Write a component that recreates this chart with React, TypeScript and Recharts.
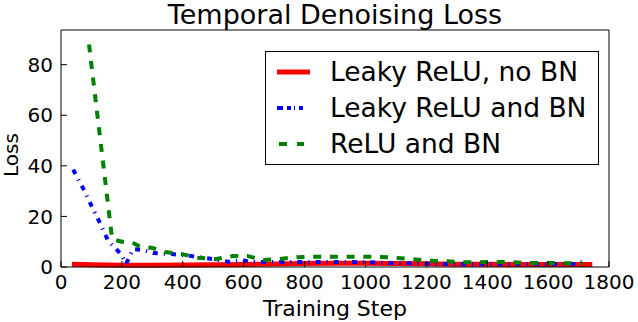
import { Line, LineChart, XAxis, YAxis } from "recharts";

const stepTicks = [0, 200, 400, 600, 800, 1000, 1200, 1400, 1600, 1800];
const lossTicks = [0, 20, 40, 60, 80];

const leakyNoBnSteps = [36, 100, 200, 300, 400, 500, 600, 700, 800, 900, 1000, 1100, 1200, 1300, 1400, 1500, 1600, 1700, 1745];
const leakyNoBnLoss = [1.1, 0.9, 0.7, 0.7, 0.8, 0.9, 1.0, 1.2, 1.4, 1.5, 1.5, 1.4, 1.3, 1.1, 1.1, 1.0, 1.0, 1.0, 1.0];

const leakyBnSteps = [40, 73, 101, 128, 155, 197, 214, 237, 270, 302, 365, 430, 496, 555, 595, 620, 677, 742, 805, 867, 933, 995, 1058, 1124, 1190, 1251, 1317, 1376, 1442, 1508, 1573, 1639, 1698, 1728];
const leakyBnLoss = [38.5, 31, 24, 17.4, 10.3, 5.1, 1.2, 7.1, 6.7, 5.5, 5.1, 4.3, 3.2, 2.0, 2.8, 2.0, 2.0, 2.0, 2.0, 2.0, 2.0, 2.0, 1.6, 1.6, 1.3, 1.2, 1.2, 1.2, 1.2, 1.2, 1.2, 1.2, 1.2, 2.8];

const reluBnSteps = [92, 168, 200, 232, 260, 302, 342, 397, 450, 506, 562, 614, 664, 720, 775, 828, 883, 939, 992, 1048, 1104, 1157, 1212, 1268, 1321, 1376, 1426, 1481, 1534, 1590, 1645, 1712];
const reluBnLoss = [88, 11, 10, 9.8, 8, 7.5, 5.9, 5.1, 3.7, 3.1, 4.3, 4.3, 2.8, 3.2, 3.9, 4.1, 4.1, 4.1, 4.1, 4.0, 3.6, 3.1, 2.5, 2.3, 1.9, 1.9, 2.0, 1.9, 1.6, 1.6, 1.5, 1.5];

const zip = (steps: number[], loss: number[]) => steps.map((step, i) => ({ step, loss: loss[i] }));

const series = [
  { name: "Leaky ReLU, no BN", data: zip(leakyNoBnSteps, leakyNoBnLoss), color: "#ff0000", width: 5, dash: undefined, legendDash: undefined, legendX: 277 },
  { name: "Leaky ReLU and BN", data: zip(leakyBnSteps, leakyBnLoss), color: "#0000ff", width: 4, dash: "5 6 1.2 6", legendDash: "6 4 4 3 1 4 4 40", legendX: 277 },
  { name: "ReLU and BN", data: zip(reluBnSteps, reluBnLoss), color: "#008000", width: 4, dash: "8 8.7", legendDash: "8 10 7 40", legendX: 279 },
];

const font = "'DejaVu Sans', sans-serif";
const tickStyle = { fontSize: 20, fill: "#000", fontFamily: font };
const blank = () => "";

export default function App() {
  return (
    <div style={{ position: "relative", width: 638, height: 322, fontFamily: font }}>
      <style>{"body{margin:0}"}</style>
      <LineChart width={638} height={322} margin={{ top: 29, right: 28, bottom: 0, left: 0 }}>
        <XAxis
          dataKey="step"
          type="number"
          domain={[0, 1800]}
          ticks={stepTicks}
          height={55}
          tick={tickStyle}
          tickSize={-6}
          tickMargin={14}
          stroke="#000"
          interval={0}
        />
        <XAxis
          xAxisId="top"
          orientation="top"
          type="number"
          domain={[0, 1800]}
          ticks={stepTicks}
          height={1}
          tickSize={-6}
          tickFormatter={blank}
          stroke="#000"
          interval={0}
        />
        <YAxis
          type="number"
          domain={[0, 93.7]}
          ticks={lossTicks}
          width={61}
          tick={tickStyle}
          tickSize={-6}
          tickMargin={14}
          stroke="#000"
          interval={0}
        />
        <YAxis
          yAxisId="right"
          orientation="right"
          type="number"
          domain={[0, 93.7]}
          ticks={lossTicks}
          width={1}
          tickSize={-6}
          tickFormatter={blank}
          stroke="#000"
          interval={0}
        />
        {series.map((s) => (
          <Line
            key={s.name}
            data={s.data}
            dataKey="loss"
            name={s.name}
            type="linear"
            stroke={s.color}
            strokeWidth={s.width}
            strokeDasharray={s.dash}
            strokeLinejoin="round"
            dot={false}
            activeDot={false}
            isAnimationActive={false}
          />
        ))}
      </LineChart>
      <svg width={638} height={322} style={{ position: "absolute", left: 0, top: 0, pointerEvents: "none" }}>
        <text x={335} y={24} textAnchor="middle" fontSize={27} fontFamily={font} fill="#000">
          Temporal Denoising Loss
        </text>
        <text x={335} y={316} textAnchor="middle" fontSize={22} fontFamily={font} fill="#000">
          Training Step
        </text>
        <text x={18} y={155} transform="rotate(-90 18 155)" textAnchor="middle" fontSize={20} fontFamily={font} fill="#000">
          Loss
        </text>
        <rect x={265.5} y={51.5} width={333} height={113} fill="#fff" stroke="#000" strokeWidth={1} />
        {series.map((s, i) => (
          <g key={s.name}>
            <line
              x1={s.legendX}
              x2={310}
              y1={72 + i * 36}
              y2={72 + i * 36}
              stroke={s.color}
              strokeWidth={s.width}
              strokeDasharray={s.legendDash}
            />
            <text x={330} y={81 + i * 36} fontSize={26.5} fontFamily={font} fill="#000">
              {s.name}
            </text>
          </g>
        ))}
      </svg>
    </div>
  );
}
